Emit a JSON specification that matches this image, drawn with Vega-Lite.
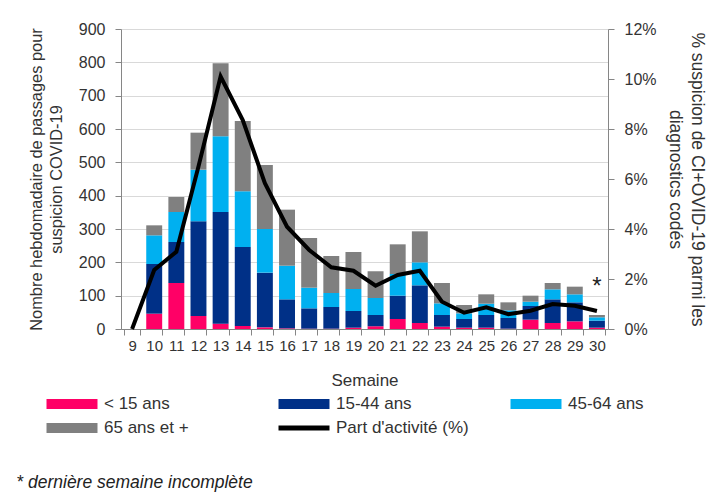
{
  "$schema": "https://vega.github.io/schema/vega-lite/v6.json",
  "width": 487,
  "height": 300,
  "autosize": {"type": "none"},
  "padding": {"left": 121, "top": 29, "right": 108, "bottom": 164},
  "background": "white",
  "config": {
    "font": "Liberation Sans",
    "view": {"stroke": null},
    "axis": {
      "labelFont": "Liberation Sans",
      "titleFont": "Liberation Sans",
      "labelFontSize": 16,
      "titleFontSize": 16.4,
      "titleFontWeight": "normal",
      "labelColor": "#333333",
      "titleColor": "#333333",
      "domainColor": "#868686",
      "tickColor": "#868686",
      "tickSize": 6
    },
    "legend": {"labelFont": "Liberation Sans", "labelFontSize": 17, "labelColor": "#333333"}
  },
  "title": {
    "text": "* dernière semaine incomplète",
    "orient": "bottom",
    "anchor": "start",
    "frame": "bounds",
    "fontStyle": "italic",
    "fontWeight": "normal",
    "fontSize": 17.5,
    "color": "#222222",
    "offset": 38,
    "dx": -12
  },
  "datasets": {
    "ages": [
      {"semaine": 9, "groupe": "< 15 ans", "n": 0},
      {"semaine": 9, "groupe": "15-44 ans", "n": 0},
      {"semaine": 9, "groupe": "45-64 ans", "n": 0},
      {"semaine": 9, "groupe": "65 ans et +", "n": 0},
      {"semaine": 10, "groupe": "< 15 ans", "n": 46},
      {"semaine": 10, "groupe": "15-44 ans", "n": 149},
      {"semaine": 10, "groupe": "45-64 ans", "n": 86},
      {"semaine": 10, "groupe": "65 ans et +", "n": 30},
      {"semaine": 11, "groupe": "< 15 ans", "n": 138},
      {"semaine": 11, "groupe": "15-44 ans", "n": 123},
      {"semaine": 11, "groupe": "45-64 ans", "n": 90},
      {"semaine": 11, "groupe": "65 ans et +", "n": 45},
      {"semaine": 12, "groupe": "< 15 ans", "n": 39},
      {"semaine": 12, "groupe": "15-44 ans", "n": 284},
      {"semaine": 12, "groupe": "45-64 ans", "n": 155},
      {"semaine": 12, "groupe": "65 ans et +", "n": 111},
      {"semaine": 13, "groupe": "< 15 ans", "n": 16},
      {"semaine": 13, "groupe": "15-44 ans", "n": 335},
      {"semaine": 13, "groupe": "45-64 ans", "n": 227},
      {"semaine": 13, "groupe": "65 ans et +", "n": 219},
      {"semaine": 14, "groupe": "< 15 ans", "n": 9},
      {"semaine": 14, "groupe": "15-44 ans", "n": 237},
      {"semaine": 14, "groupe": "45-64 ans", "n": 167},
      {"semaine": 14, "groupe": "65 ans et +", "n": 211},
      {"semaine": 15, "groupe": "< 15 ans", "n": 5},
      {"semaine": 15, "groupe": "15-44 ans", "n": 164},
      {"semaine": 15, "groupe": "45-64 ans", "n": 131},
      {"semaine": 15, "groupe": "65 ans et +", "n": 192},
      {"semaine": 16, "groupe": "< 15 ans", "n": 2},
      {"semaine": 16, "groupe": "15-44 ans", "n": 87},
      {"semaine": 16, "groupe": "45-64 ans", "n": 101},
      {"semaine": 16, "groupe": "65 ans et +", "n": 168},
      {"semaine": 17, "groupe": "< 15 ans", "n": 1},
      {"semaine": 17, "groupe": "15-44 ans", "n": 61},
      {"semaine": 17, "groupe": "45-64 ans", "n": 62},
      {"semaine": 17, "groupe": "65 ans et +", "n": 149},
      {"semaine": 18, "groupe": "< 15 ans", "n": 1},
      {"semaine": 18, "groupe": "15-44 ans", "n": 65},
      {"semaine": 18, "groupe": "45-64 ans", "n": 42},
      {"semaine": 18, "groupe": "65 ans et +", "n": 111},
      {"semaine": 19, "groupe": "< 15 ans", "n": 4},
      {"semaine": 19, "groupe": "15-44 ans", "n": 50},
      {"semaine": 19, "groupe": "45-64 ans", "n": 66},
      {"semaine": 19, "groupe": "65 ans et +", "n": 111},
      {"semaine": 20, "groupe": "< 15 ans", "n": 8},
      {"semaine": 20, "groupe": "15-44 ans", "n": 34},
      {"semaine": 20, "groupe": "45-64 ans", "n": 51},
      {"semaine": 20, "groupe": "65 ans et +", "n": 80},
      {"semaine": 21, "groupe": "< 15 ans", "n": 30},
      {"semaine": 21, "groupe": "15-44 ans", "n": 70},
      {"semaine": 21, "groupe": "45-64 ans", "n": 65},
      {"semaine": 21, "groupe": "65 ans et +", "n": 89},
      {"semaine": 22, "groupe": "< 15 ans", "n": 18},
      {"semaine": 22, "groupe": "15-44 ans", "n": 113},
      {"semaine": 22, "groupe": "45-64 ans", "n": 69},
      {"semaine": 22, "groupe": "65 ans et +", "n": 93},
      {"semaine": 23, "groupe": "< 15 ans", "n": 7},
      {"semaine": 23, "groupe": "15-44 ans", "n": 35},
      {"semaine": 23, "groupe": "45-64 ans", "n": 35},
      {"semaine": 23, "groupe": "65 ans et +", "n": 61},
      {"semaine": 24, "groupe": "< 15 ans", "n": 4},
      {"semaine": 24, "groupe": "15-44 ans", "n": 26},
      {"semaine": 24, "groupe": "45-64 ans", "n": 17},
      {"semaine": 24, "groupe": "65 ans et +", "n": 25},
      {"semaine": 25, "groupe": "< 15 ans", "n": 4},
      {"semaine": 25, "groupe": "15-44 ans", "n": 38},
      {"semaine": 25, "groupe": "45-64 ans", "n": 34},
      {"semaine": 25, "groupe": "65 ans et +", "n": 28},
      {"semaine": 26, "groupe": "< 15 ans", "n": 1},
      {"semaine": 26, "groupe": "15-44 ans", "n": 32},
      {"semaine": 26, "groupe": "45-64 ans", "n": 23},
      {"semaine": 26, "groupe": "65 ans et +", "n": 24},
      {"semaine": 27, "groupe": "< 15 ans", "n": 28},
      {"semaine": 27, "groupe": "15-44 ans", "n": 41},
      {"semaine": 27, "groupe": "45-64 ans", "n": 13},
      {"semaine": 27, "groupe": "65 ans et +", "n": 18},
      {"semaine": 28, "groupe": "< 15 ans", "n": 18},
      {"semaine": 28, "groupe": "15-44 ans", "n": 71},
      {"semaine": 28, "groupe": "45-64 ans", "n": 30},
      {"semaine": 28, "groupe": "65 ans et +", "n": 19},
      {"semaine": 29, "groupe": "< 15 ans", "n": 23},
      {"semaine": 29, "groupe": "15-44 ans", "n": 57},
      {"semaine": 29, "groupe": "45-64 ans", "n": 24},
      {"semaine": 29, "groupe": "65 ans et +", "n": 23},
      {"semaine": 30, "groupe": "< 15 ans", "n": 4},
      {"semaine": 30, "groupe": "15-44 ans", "n": 21},
      {"semaine": 30, "groupe": "45-64 ans", "n": 10},
      {"semaine": 30, "groupe": "65 ans et +", "n": 7}
    ],
    "part": [
      {"semaine": 9, "pct": 0},
      {"semaine": 10, "pct": 2.36},
      {"semaine": 11, "pct": 3.09},
      {"semaine": 12, "pct": 6.5},
      {"semaine": 13, "pct": 10.1},
      {"semaine": 14, "pct": 8.36},
      {"semaine": 15, "pct": 5.83},
      {"semaine": 16, "pct": 4.09},
      {"semaine": 17, "pct": 3.16},
      {"semaine": 18, "pct": 2.47},
      {"semaine": 19, "pct": 2.33},
      {"semaine": 20, "pct": 1.73},
      {"semaine": 21, "pct": 2.16},
      {"semaine": 22, "pct": 2.33},
      {"semaine": 23, "pct": 1.09},
      {"semaine": 24, "pct": 0.65},
      {"semaine": 25, "pct": 0.87},
      {"semaine": 26, "pct": 0.59},
      {"semaine": 27, "pct": 0.73},
      {"semaine": 28, "pct": 1.0},
      {"semaine": 29, "pct": 0.93},
      {"semaine": 30, "pct": 0.72}
    ],
    "note": [
      {"semaine": 30, "pct": 1.84, "texte": "*"}
    ]
  },
  "layer": [
    {
      "data": {"name": "ages"},
      "transform": [
        {"calculate": "indexof(['< 15 ans', '15-44 ans', '45-64 ans', '65 ans et +'], datum.groupe)", "as": "rang"}
      ],
      "mark": {"type": "bar"},
      "encoding": {
        "x": {
          "field": "semaine",
          "type": "ordinal",
          "scale": {"paddingInner": 0.28, "paddingOuter": 0.14},
          "axis": {
            "title": "Semaine",
            "titleFontSize": 17,
            "labelFontSize": 15,
            "labelAngle": 0,
            "tickBand": "extent",
            "labelPadding": 3,
            "titlePadding": 19,
            "domainColor": "#868686"
          }
        },
        "y": {
          "field": "n",
          "type": "quantitative",
          "stack": "zero",
          "scale": {"domain": [0, 900], "nice": false},
          "axis": {
            "orient": "left",
            "values": [0, 100, 200, 300, 400, 500, 600, 700, 800, 900],
            "title": ["Nombre hebdomadaire de passages pour", "suspicion COVID-19"],
            "titleLineHeight": 20,
            "titlePadding": 14,
            "labelPadding": 10,
            "grid": true,
            "gridColor": "#d9d9d9"
          }
        },
        "color": {
          "field": "groupe",
          "type": "nominal",
          "scale": {
            "domain": ["< 15 ans", "15-44 ans", "45-64 ans", "65 ans et +", "Part d'activité (%)"],
            "range": ["#ff0066", "#003087", "#00b0f0", "#808080", "#000000"]
          },
          "legend": {
            "title": null,
            "orient": "none",
            "legendX": -62,
            "legendY": 362,
            "direction": "horizontal",
            "columns": 3,
            "gridAlign": "all",
            "columnPadding": 41,
            "rowPadding": 3,
            "symbolType": "M-2,-0.4H2V0.4H-2Z",
            "symbolSize": 650,
            "symbolStrokeWidth": 0,
            "labelOffset": 19,
            "encode": {
              "symbols": {
                "update": {
                  "fill": {"scale": "color", "field": "value"},
                  "stroke": {"value": "transparent"},
                  "shape": {"signal": "datum.value === \"Part d'activité (%)\" ? 'M-2,-0.2H2V0.2H-2Z' : 'M-2,-0.4H2V0.4H-2Z'"}
                }
              }
            }
          }
        },
        "order": {"field": "rang", "type": "quantitative"}
      }
    },
    {
      "layer": [
        {
          "data": {"name": "part"},
          "mark": {"type": "line", "strokeWidth": 4},
          "encoding": {
            "x": {"field": "semaine", "type": "ordinal"},
            "y": {
              "field": "pct",
              "type": "quantitative",
              "scale": {"domain": [0, 12], "nice": false},
              "axis": {
                "orient": "right",
                "values": [0, 2, 4, 6, 8, 10, 12],
                "labelExpr": "datum.value + '%'",
                "title": ["% suspicion de CI+OVID-19 parmi les", "diagnostics codés"],
                "titleFontSize": 17.5,
                "titleLineHeight": 22,
                "titlePadding": 9,
                "labelPadding": 10,
                "grid": false
              }
            },
            "color": {"datum": "Part d'activité (%)"}
          }
        },
        {
          "data": {"name": "note"},
          "mark": {"type": "text", "fontSize": 24, "baseline": "middle", "align": "center", "color": "#222222", "dy": 4},
          "encoding": {
            "x": {"field": "semaine", "type": "ordinal"},
            "y": {"field": "pct", "type": "quantitative"},
            "text": {"field": "texte"}
          }
        }
      ]
    }
  ],
  "resolve": {"scale": {"y": "independent"}}
}
